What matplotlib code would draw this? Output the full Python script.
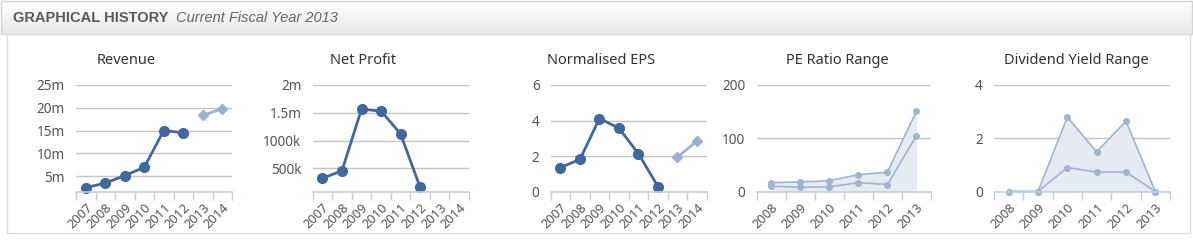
import numpy as np
import matplotlib
matplotlib.use("Agg")
import matplotlib.pyplot as plt
from matplotlib.patches import Rectangle

# Data.
years_8 = ["2007", "2008", "2009", "2010", "2011", "2012", "2013", "2014"]
years_6 = ["2008", "2009", "2010", "2011", "2012", "2013"]

revenue = [2.47e6, 3.44e6, 5.1e6, 6.9e6, 15.0e6, 14.5e6]
revenue_forecast = [18.3e6, 19.8e6]
net_profit = [319e3, 458e3, 1.567e6, 1.53e6, 1.12e6, 156e3]
eps = [1.35, 1.81, 4.11, 3.57, 2.13, 0.28]
eps_forecast = [1.94, 2.84]
pe_high = [16.7, 17.9, 20.4, 31.5, 36.4, 151]
pe_low = [9.9, 8.0, 8.6, 16.7, 13.0, 105]
div_high = [0, 0, 2.79, 1.49, 2.64, 0]
div_low = [0, 0, 0.90, 0.73, 0.73, 0]

W, H = 1193, 242
MAIN = "#40689e"
LIGHT = "#9ab1cf"
RANGE = "#9fb4d0"
FILL = "#e6ebf3"
GRID = "#c4c4c4"
AXIS = "#c0d0e0"
TEXT = "#555555"

plt.rcParams["font.family"] = ["Noto Sans", "DejaVu Sans"]

fig = plt.figure(figsize=(W / 100, H / 100), dpi=100)
fig.patch.set_facecolor("white")

# header band with a light vertical gradient
bg = fig.add_axes([0, 0, 1, 1], zorder=-10)
bg.set_xlim(0, W)
bg.set_ylim(H, 0)
bg.axis("off")
grad = np.linspace(1.0, 0.91, 64).reshape(-1, 1)
bg.imshow(grad, extent=[1, W - 1, 34, 1], cmap="gray", vmin=0, vmax=1, aspect="auto")
bg.add_patch(Rectangle((1, 1), W - 2, 33, fill=False, ec="#d4d4d4", lw=1))
bg.add_patch(Rectangle((7, 34), W - 10, 199, fill=False, ec="#dcdcdc", lw=1))
bg.text(13, 18, "GRAPHICAL HISTORY", fontsize=10.5, fontweight="bold", color="#5a5a5a",
        va="center", family=["Liberation Sans"])
bg.text(176, 18, "Current Fiscal Year 2013", fontsize=10.5, style="italic", color="#666666",
        va="center", family=["Liberation Sans"])


def make_axes(x0, x1, title, title_x, ylim, yticks, ylabels, cats):
    top, bottom = 85, 191.5
    ax = fig.add_axes([x0 / W, (H - bottom) / H, (x1 - x0) / W, (bottom - top) / H])
    ax.set_xlim(-0.5, len(cats) - 0.5)
    ax.set_ylim(*ylim)
    for s in ["top", "right", "left"]:
        ax.spines[s].set_visible(False)
    ax.spines["bottom"].set_color(AXIS)
    ax.spines["bottom"].set_linewidth(1.2)
    ax.spines["bottom"].set_zorder(5)
    ax.set_yticks(yticks)
    ax.set_yticklabels(ylabels, fontsize=9.8, color=TEXT)
    ax.tick_params(axis="y", length=0, pad=8)
    ax.grid(axis="y", color=GRID, lw=1)
    ax.set_axisbelow(True)
    # tick marks between categories, labels on categories
    ax.set_xticks(np.arange(len(cats) + 1) - 0.5, minor=False)
    ax.set_xticklabels([])
    ax.tick_params(axis="x", which="major", length=6, color=AXIS, width=1)
    ax.set_xticks(np.arange(len(cats)), minor=True)
    ax.set_xticklabels(cats, minor=True, rotation=45, ha="right", va="top",
                       rotation_mode="anchor", fontsize=9.3, color=TEXT)
    ax.tick_params(axis="x", which="minor", length=0, pad=7)
    fig.text(title_x / W, (H - 61) / H, title, ha="center", va="center",
             fontsize=10.5, color="#333333")
    return ax


ax = make_axes(76, 232, "Revenue", 126, (1.6e6, 25e6),
               [5e6, 10e6, 15e6, 20e6, 25e6], ["5m", "10m", "15m", "20m", "25m"], years_8)
ax.plot(range(6), revenue, color=MAIN, lw=2, marker="o", ms=7, clip_on=False)
ax.plot([6, 7], revenue_forecast, color=LIGHT, lw=2, marker="D", ms=5.5, clip_on=False)

ax = make_axes(312.7, 469, "Net Profit", 363, (83e3, 2e6),
               [500e3, 1000e3, 1.5e6, 2e6], ["500k", "1000k", "1.5m", "2m"], years_8)
ax.plot(range(6), net_profit, color=MAIN, lw=2, marker="o", ms=7, clip_on=False)

ax = make_axes(550.7, 706.7, "Normalised EPS", 601, (0, 6),
               [0, 2, 4, 6], ["0", "2", "4", "6"], years_8)
ax.plot(range(6), eps, color=MAIN, lw=2, marker="o", ms=7, clip_on=False)
ax.plot([6, 7], eps_forecast, color=LIGHT, lw=2, marker="D", ms=5.5, clip_on=False)

ax = make_axes(756.7, 931, "PE Ratio Range", 837.5, (0, 200),
               [0, 100, 200], ["0", "100", "200"], years_6)
ax.fill_between(range(6), 0, pe_high, color=FILL, lw=0)
ax.plot(range(6), pe_high, color=RANGE, lw=1.2, marker="o", ms=4, clip_on=False)
ax.plot(range(6), pe_low, color=RANGE, lw=1.2, marker="o", ms=4, clip_on=False)

ax = make_axes(994, 1170, "Dividend Yield Range", 1076, (0, 4),
               [0, 2, 4], ["0", "2", "4"], years_6)
ax.fill_between(range(6), 0, div_high, color=FILL, lw=0)
ax.plot(range(6), div_high, color=RANGE, lw=1.2, marker="o", ms=4, clip_on=False)
ax.plot(range(6), div_low, color=RANGE, lw=1.2, marker="o", ms=4, clip_on=False)

fig.savefig("out.png", dpi=100)
